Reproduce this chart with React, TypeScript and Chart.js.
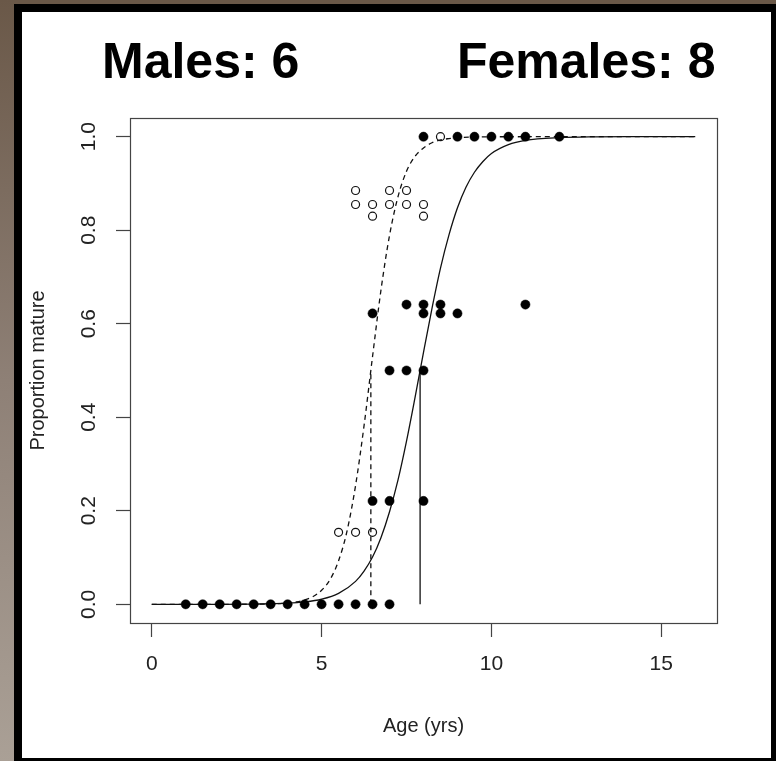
import React, { useEffect, useRef } from "react";
import { Chart, registerables } from "chart.js";

Chart.register(...registerables);

// ---- data ----
const xTickValues = [0, 5, 10, 15];
const yTickValues = [0, 0.2, 0.4, 0.6, 0.8, 1.0];

// Females (filled dots)
const femaleAges = [1, 1.5, 2, 2.5, 3, 3.5, 4, 4.5, 5, 5.5, 6, 6.5, 7, 6.5, 7, 8, 7, 7.5, 8, 6.5, 8, 8.5, 9, 7.5, 8, 8.5, 11, 8, 9, 9.5, 10, 10.5, 11, 12];
const femaleProps = [0, 0, 0, 0, 0, 0, 0, 0, 0, 0, 0, 0, 0, 0.221, 0.221, 0.221, 0.5, 0.5, 0.5, 0.622, 0.622, 0.622, 0.622, 0.641, 0.641, 0.641, 0.641, 1, 1, 1, 1, 1, 1, 1];

// Males (open circles)
const maleAges = [5.5, 6, 6.5, 6, 7, 7.5, 6, 6.5, 7, 7.5, 8, 6.5, 8, 8.5];
const maleProps = [0.154, 0.154, 0.154, 0.885, 0.885, 0.885, 0.855, 0.855, 0.855, 0.855, 0.855, 0.83, 0.83, 1];

// Fitted curves
const femaleCurveAges = [0, 1, 2, 3, 4, 4.5, 5, 5.5, 6, 6.25, 6.5, 6.75, 7, 7.25, 7.5, 7.75, 8, 8.25, 8.5, 8.75, 9, 9.25, 9.5, 9.75, 10, 10.5, 11, 12, 13, 14, 16];
const femaleCurveProps = [0, 0, 0, 0.0005, 0.0023, 0.005, 0.0108, 0.0232, 0.049, 0.071, 0.101, 0.143, 0.198, 0.266, 0.349, 0.442, 0.539, 0.633, 0.719, 0.79, 0.848, 0.892, 0.924, 0.947, 0.964, 0.983, 0.992, 0.998, 0.9997, 1, 1];
const maleCurveAges = [0, 1, 2, 3, 3.5, 4, 4.25, 4.5, 4.75, 5, 5.25, 5.5, 5.75, 6, 6.25, 6.5, 6.75, 7, 7.25, 7.5, 7.75, 8, 8.25, 8.5, 8.75, 9, 10, 12, 16];
const maleCurveProps = [0, 0, 0, 0.0002, 0.0008, 0.0028, 0.0051, 0.0092, 0.0166, 0.03, 0.053, 0.093, 0.157, 0.254, 0.382, 0.53, 0.673, 0.789, 0.872, 0.926, 0.958, 0.976, 0.987, 0.993, 0.996, 0.998, 0.9998, 1, 1];

// Age at 50% maturity (vertical markers)
const femaleA50 = 7.9;
const maleA50 = 6.45;
const markerAges = [0, 0.5];

const titleLeft = "Males: 6";
const titleRight = "Females: 8";
const xTitle = "Age (yrs)";
const yTitle = "Proportion mature";

const FONT = "'Liberation Sans', Arial, Helvetica, sans-serif";

const toPts = (xs: number[], ys: number[]) => xs.map((x, i) => ({ x, y: ys[i] }));

const framePlugin = {
  id: "frame",
  beforeDraw(chart: any) {
    const { ctx, width, height } = chart;
    ctx.save();
    ctx.fillStyle = "#000";
    ctx.fillRect(0, 0, width, height);
    // outer brown/grey border
    ctx.fillStyle = "#6a5848";
    ctx.fillRect(0, 0, width, 4);
    const g = ctx.createLinearGradient(0, 0, 0, height);
    g.addColorStop(0, "#6a5848");
    g.addColorStop(0.5, "#8e8076");
    g.addColorStop(1, "#aaa096");
    ctx.fillStyle = g;
    ctx.fillRect(0, 0, 14, height);
    // white panel
    ctx.fillStyle = "#fff";
    ctx.fillRect(22, 12, 749, 746);
    // titles
    ctx.fillStyle = "#000";
    ctx.font = `bold 50px ${FONT}`;
    ctx.textBaseline = "alphabetic";
    ctx.textAlign = "left";
    ctx.fillText(titleLeft, 102, 78);
    ctx.fillText(titleRight, 457, 78);
    ctx.restore();
  },
  afterDatasetsDraw(chart: any) {
    const { ctx, chartArea: a } = chart;
    ctx.save();
    ctx.strokeStyle = "#444";
    ctx.lineWidth = 1.2;
    ctx.strokeRect(a.left + 0.5, a.top + 0.5, a.right - a.left, a.bottom - a.top);
    ctx.restore();
  },
};

export default function App() {
  const ref = useRef<HTMLCanvasElement | null>(null);
  useEffect(() => {
    if (!ref.current) return;
    const lineBase = {
      type: "scatter" as const,
      showLine: true,
      pointRadius: 0,
      borderColor: "#111",
      borderWidth: 1.3,
      fill: false,
    };
    const chart = new Chart(ref.current, {
      type: "scatter",
      data: {
        datasets: [
          {
            label: "Females",
            data: toPts(femaleAges, femaleProps),
            pointRadius: 4.6,
            pointBackgroundColor: "#000",
            pointBorderColor: "#000",
            pointBorderWidth: 0.5,
          },
          {
            label: "Males",
            data: toPts(maleAges, maleProps),
            pointRadius: 4,
            pointBackgroundColor: "rgba(0,0,0,0)",
            pointBorderColor: "#111",
            pointBorderWidth: 1.2,
          },
          {
            ...lineBase,
            label: "Female fit",
            data: toPts(femaleCurveAges, femaleCurveProps),
            cubicInterpolationMode: "monotone",
          },
          {
            ...lineBase,
            label: "Male fit",
            data: toPts(maleCurveAges, maleCurveProps),
            cubicInterpolationMode: "monotone",
            borderDash: [5, 4],
          },
          {
            ...lineBase,
            label: "Female A50",
            data: markerAges.map((y) => ({ x: femaleA50, y })),
          },
          {
            ...lineBase,
            label: "Male A50",
            data: markerAges.map((y) => ({ x: maleA50, y })),
            borderDash: [5, 4],
          },
        ] as any,
      },
      options: {
        responsive: false,
        animation: false,
        events: [],
        layout: { padding: { left: 22, top: 118, right: 59, bottom: 18 } },
        plugins: {
          legend: { display: false },
          tooltip: { enabled: false },
          title: { display: false },
        },
        scales: {
          x: {
            type: "linear",
            min: -0.64,
            max: 16.64,
            afterFit: (s: any) => {
              s.height = 120;
            },
            afterBuildTicks: (s: any) => {
              s.ticks = xTickValues.map((value) => ({ value }));
            },
            border: { display: false },
            grid: { drawOnChartArea: false, drawTicks: true, tickLength: 14, tickColor: "#444", tickWidth: 1.2 },
            ticks: {
              autoSkip: false,
              maxRotation: 0,
              padding: 15,
              color: "#222",
              font: { family: FONT, size: 21 },
              callback: (v: any) => String(v),
            },
            title: {
              display: true,
              text: xTitle,
              color: "#222",
              font: { family: FONT, size: 20 },
              padding: { top: 0, bottom: 5 },
            },
          },
          y: {
            type: "linear",
            min: -0.04,
            max: 1.04,
            afterFit: (s: any) => {
              s.width = 108;
            },
            afterBuildTicks: (s: any) => {
              s.ticks = yTickValues.map((value) => ({ value }));
            },
            border: { display: false },
            grid: { drawOnChartArea: false, drawTicks: true, tickLength: 14, tickColor: "#444", tickWidth: 1.2 },
            ticks: {
              autoSkip: false,
              minRotation: 90,
              maxRotation: 90,
              crossAlign: "center",
              padding: 12,
              color: "#222",
              font: { family: FONT, size: 21 },
              callback: (v: any) => Number(v).toFixed(1),
            },
            title: {
              display: true,
              text: yTitle,
              color: "#222",
              font: { family: FONT, size: 20 },
              padding: { top: 4, bottom: 0 },
            },
          },
        },
      },
      plugins: [framePlugin],
    } as any);
    return () => chart.destroy();
  }, []);
  return (
    <canvas
      ref={ref}
      width={776}
      height={761}
      style={{ position: "fixed", left: 0, top: 0, width: 776, height: 761, display: "block" }}
    />
  );
}
